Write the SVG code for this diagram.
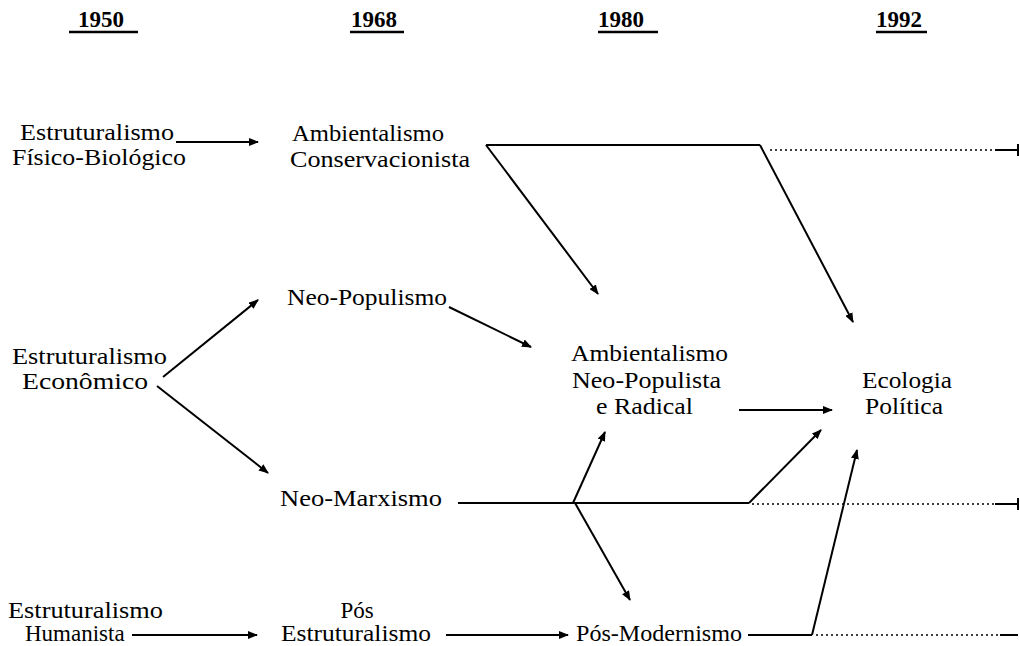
<svg xmlns="http://www.w3.org/2000/svg" width="1020" height="646" viewBox="0 0 1020 646">
<defs>
<marker id="ah" markerWidth="10" markerHeight="8" refX="9" refY="4" orient="auto" markerUnits="userSpaceOnUse">
<path d="M0,0 L10,4 L0,8 Z" fill="#000"/>
</marker>
<style>
text{font-family:"Liberation Serif","Times New Roman",serif;font-size:23px;fill:#000}
.yr{font-weight:bold;font-size:23px}
.c{text-anchor:middle}
.ln{stroke:#000;stroke-width:2;fill:none}
.ar{stroke:#000;stroke-width:2;fill:none;marker-end:url(#ah)}
.dt{stroke:#000;stroke-width:1.3;stroke-dasharray:2,3;fill:none}
.ul{stroke:#000;stroke-width:2.5}
</style>
</defs>
<rect width="1020" height="646" fill="#fff"/>
<g id="years">
<text class="yr" x="78" y="27">1950</text><line class="ul" x1="69" y1="32" x2="138" y2="32"/>
<text class="yr" x="351" y="27">1968</text><line class="ul" x1="350" y1="32" x2="404" y2="32"/>
<text class="yr" x="598" y="27">1980</text><line class="ul" x1="598" y1="32" x2="658" y2="32"/>
<text class="yr" x="876" y="27">1992</text><line class="ul" x1="876" y1="32" x2="927" y2="32"/>
</g>
<g id="n-efb"><text x="20" y="140" textLength="154" lengthAdjust="spacingAndGlyphs">Estruturalismo</text><text x="12" y="165" textLength="174" lengthAdjust="spacingAndGlyphs">Físico-Biológico</text></g>
<g id="n-ac"><text x="292" y="141" textLength="152" lengthAdjust="spacingAndGlyphs">Ambientalismo</text><text x="290" y="167" textLength="180" lengthAdjust="spacingAndGlyphs">Conservacionista</text></g>
<g id="n-np"><text x="287" y="305" textLength="160" lengthAdjust="spacingAndGlyphs">Neo-Populismo</text></g>
<g id="n-ee"><text x="12" y="364" textLength="155" lengthAdjust="spacingAndGlyphs">Estruturalismo</text><text x="22" y="389" textLength="126" lengthAdjust="spacingAndGlyphs">Econômico</text></g>
<g id="n-anr"><text x="571" y="361" textLength="157" lengthAdjust="spacingAndGlyphs">Ambientalismo</text><text x="572" y="388" textLength="149" lengthAdjust="spacingAndGlyphs">Neo-Populista</text><text x="596" y="414" textLength="97" lengthAdjust="spacingAndGlyphs">e Radical</text></g>
<g id="n-ep"><text x="862" y="388" textLength="90" lengthAdjust="spacingAndGlyphs">Ecologia</text><text x="865" y="414" textLength="78" lengthAdjust="spacingAndGlyphs">Política</text></g>
<g id="n-nm"><text x="280" y="506" textLength="162" lengthAdjust="spacingAndGlyphs">Neo-Marxismo</text></g>
<g id="n-eh"><text x="8" y="618" textLength="155" lengthAdjust="spacingAndGlyphs">Estruturalismo</text><text x="25" y="641">Humanista</text></g>
<g id="n-pe"><text class="c" x="357" y="618">Pós</text><text x="281" y="641" textLength="150" lengthAdjust="spacingAndGlyphs">Estruturalismo</text></g>
<g id="n-pm"><text x="576" y="641" textLength="166" lengthAdjust="spacingAndGlyphs">Pós-Modernismo</text></g>
<g id="connectors">
<line class="ar" x1="176" y1="142" x2="258" y2="142"/>
<line class="ln" x1="486" y1="145" x2="760" y2="145"/>
<line class="ar" x1="486" y1="145" x2="598" y2="294"/>
<line class="ar" x1="760" y1="145" x2="853" y2="322"/>
<line class="dt" x1="770" y1="150" x2="995" y2="150"/>
<line class="ln" x1="995" y1="150" x2="1018" y2="150"/>
<line class="ln" x1="1018" y1="144" x2="1018" y2="156"/>
<line class="ar" x1="163" y1="377" x2="258" y2="300"/>
<line class="ar" x1="157" y1="386" x2="268" y2="473"/>
<line class="ar" x1="449" y1="307" x2="531" y2="347"/>
<line class="ar" x1="739" y1="410" x2="832" y2="410"/>
<line class="ln" x1="458" y1="503" x2="749" y2="503"/>
<line class="ar" x1="573" y1="503" x2="605" y2="432"/>
<line class="ar" x1="749" y1="503" x2="821" y2="430"/>
<line class="ar" x1="575" y1="503" x2="630" y2="600"/>
<line class="dt" x1="752" y1="504" x2="995" y2="504"/>
<line class="ln" x1="995" y1="504" x2="1018" y2="504"/>
<line class="ln" x1="1018" y1="498" x2="1018" y2="510"/>
<line class="ar" x1="132" y1="635" x2="257" y2="635"/>
<line class="ar" x1="446" y1="635" x2="568" y2="635"/>
<line class="ln" x1="748" y1="635" x2="812" y2="635"/>
<line class="ar" x1="812" y1="635" x2="857" y2="450"/>
<line class="dt" x1="816" y1="635" x2="1000" y2="635"/>
<line class="ln" x1="1000" y1="635" x2="1018" y2="635"/>
</g>
</svg>
